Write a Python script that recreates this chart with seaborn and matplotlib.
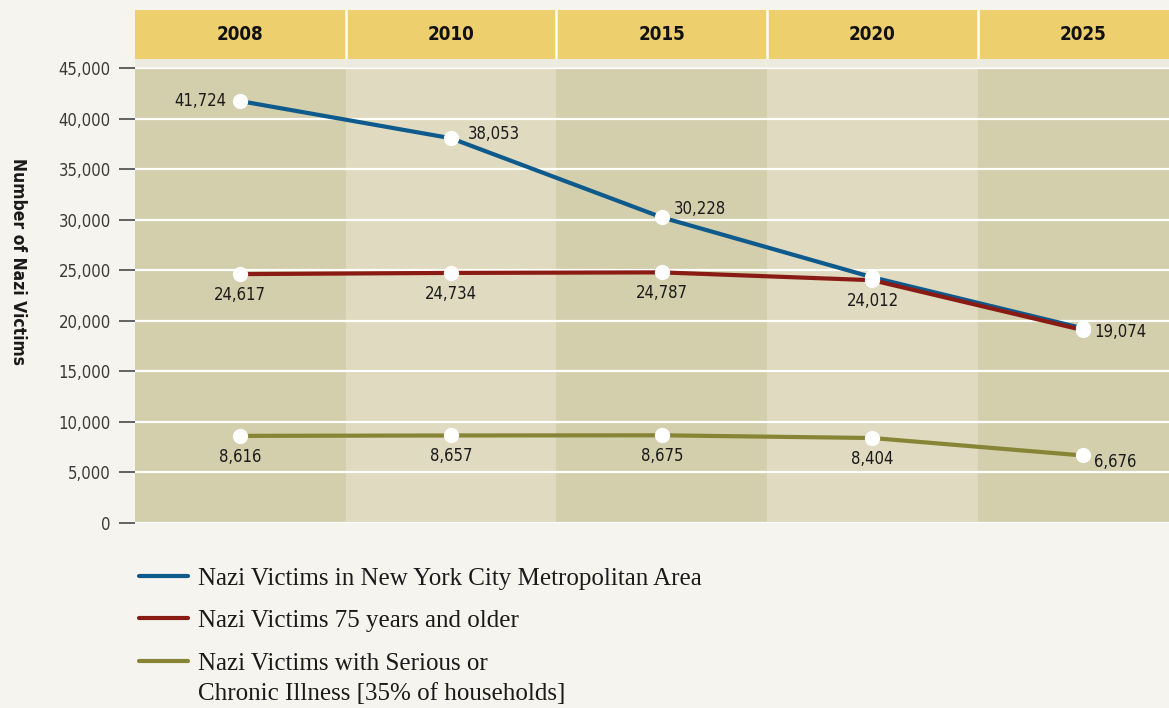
import numpy as np
import pandas as pd
import matplotlib
matplotlib.use("Agg")
import matplotlib.pyplot as plt
from matplotlib import font_manager
from matplotlib.patches import Rectangle
from matplotlib.ticker import FuncFormatter
import seaborn as sns

years = ["2008", "2010", "2015", "2020", "2025"]
series_names = ["Nazi Victims in New York City Metropolitan Area",
                "Nazi Victims 75 years and older",
                "Nazi Victims with Serious or"]
nyc_area = [41724, 38053, 30228, 24300, 19250]
age_75_plus = [24617, 24734, 24787, 24012, 19074]
chronic_ill = [8616, 8657, 8675, 8404, 6676]
legend_extra = "Chronic Illness [35% of households]"
y_ticks = [0, 5000, 10000, 15000, 20000, 25000, 30000, 35000, 40000, 45000]

W, H = 1169, 708
bg = "#f5f4ee"
gold = "#edcf6e"
dark_col = "#d3ceab"
light_col = "#dfdac0"
colors = ["#0e5a8c", "#8a1a14", "#878535"]

sns.set_theme(style="white")
fonts = font_manager.fontManager.ttflist
names = {f.name for f in fonts}
serif = "Liberation Serif" if "Liberation Serif" in names else "DejaVu Serif"
has_cond = any(f.name == "DejaVu Sans" and f.stretch == "condensed" for f in fonts)
plt.rcParams["font.family"] = ["DejaVu Sans"]
if has_cond:
    plt.rcParams["font.stretch"] = "condensed"
    fs_scale = 1.0
else:
    fs_scale = 0.92

df = pd.DataFrame({
    "pos": list(range(len(years))) * 3,
    "value": nyc_area + age_75_plus + chronic_ill,
    "series": [series_names[0]] * 5 + [series_names[1]] * 5 + [series_names[2]] * 5,
})

fig = plt.figure(figsize=(W / 100, H / 100), dpi=100, facecolor=bg)
left = 135 / W
ax = fig.add_axes([left, 1 - 523 / H, 1 - left, (523 - 68) / H])
ax.set_facecolor(bg)
xmax = -0.5 + (W - 135) / 210.7
ax.set_xlim(-0.5, xmax)
ax.set_ylim(0, 45000)

# column shading
for i in range(len(years)):
    ax.axvspan(i - 0.5, i + 0.5, color=dark_col if i % 2 == 0 else light_col, lw=0, zorder=0)

for yt in y_ticks:
    ax.axhline(yt, color="white", lw=1.6, zorder=1)

sns.lineplot(data=df, x="pos", y="value", hue="series", palette=colors,
             linewidth=3, ax=ax, zorder=3, legend=True)
for vals in [nyc_area, age_75_plus, chronic_ill]:
    ax.plot(range(len(years)), vals, "o", color="white", markersize=11,
            markeredgewidth=0, zorder=4)

for s in ax.spines.values():
    s.set_visible(False)
ax.set_xticks([])
ax.set_yticks(y_ticks)
ax.yaxis.set_major_formatter(FuncFormatter(lambda v, p: f"{int(v):,}"))
ax.tick_params(axis="y", left=True, length=11.5, width=1.1, color="#3a3a3a",
               pad=6, labelsize=12 * fs_scale, labelcolor="#3a3a3a")
ax.set_xlabel("")
ax.set_ylabel("")

lab_kw = dict(textcoords="offset points", fontsize=12 * fs_scale, color="#1a1a1a", zorder=5)
# NYC labels
ax.annotate(f"{nyc_area[0]:,}", (0, nyc_area[0]), xytext=(-10, 0), ha="right", va="center", **lab_kw)
ax.annotate(f"{nyc_area[1]:,}", (1, nyc_area[1]), xytext=(12, 3), ha="left", va="center", **lab_kw)
ax.annotate(f"{nyc_area[2]:,}", (2, nyc_area[2]), xytext=(9, 6), ha="left", va="center", **lab_kw)
# 75+ labels
for i in range(4):
    ax.annotate(f"{age_75_plus[i]:,}", (i, age_75_plus[i]), xytext=(0, -15), ha="center", va="center", **lab_kw)
ax.annotate(f"{age_75_plus[4]:,}", (4, age_75_plus[4]), xytext=(8, -1), ha="left", va="center", **lab_kw)
# illness labels
for i in range(4):
    ax.annotate(f"{chronic_ill[i]:,}", (i, chronic_ill[i]), xytext=(0, -15), ha="center", va="center", **lab_kw)
ax.annotate(f"{chronic_ill[4]:,}", (4, chronic_ill[4]), xytext=(8, -5), ha="left", va="center", **lab_kw)

# header band
hax = fig.add_axes([left, 1 - 59 / H, 1 - left, 49 / H])
hax.set_xlim(-0.5, xmax)
hax.set_ylim(0, 1)
hax.axvspan(-0.5, xmax, color=gold, lw=0)
for i in range(1, len(years)):
    hax.axvline(i - 0.5, color="white", lw=1.8)
for i, yr in enumerate(years):
    hax.text(i, 0.5, yr, ha="center", va="center", fontsize=13.5 * fs_scale,
             fontweight="bold", color="#111111")
hax.axis("off")

fig.add_artist(Rectangle((left, 1 - 67 / H), 1 - left, 8 / H, transform=fig.transFigure,
                         color="#edeadf", lw=0))

fig.text(18 / W, 1 - 262 / H, "Number of Nazi Victims", rotation=270, ha="center", va="center",
         fontsize=12.5 * fs_scale, fontweight="bold", color="#1a1a1a")

# legend
handles, labels = ax.get_legend_handles_labels()
ax.get_legend().remove()
leg = fig.legend(handles, labels, loc="upper left", bbox_to_anchor=(139 / W, 1 - 567 / H),
                 frameon=False, borderpad=0, borderaxespad=0, handlelength=1.95,
                 handletextpad=0.42, labelspacing=0.8, prop={"family": serif, "size": 18})
for t in leg.get_texts():
    t.set_color("#1a1a1a")
for l in leg.get_lines():
    l.set_linewidth(3)

fig.canvas.draw()
bb = leg.get_texts()[2].get_window_extent()
fig.text(bb.x0 / W, (bb.y0 - 30) / H, legend_extra, ha="left", va="bottom",
         fontsize=18, family=serif, color="#1a1a1a")

fig.savefig("out.png", dpi=100, facecolor=bg)
